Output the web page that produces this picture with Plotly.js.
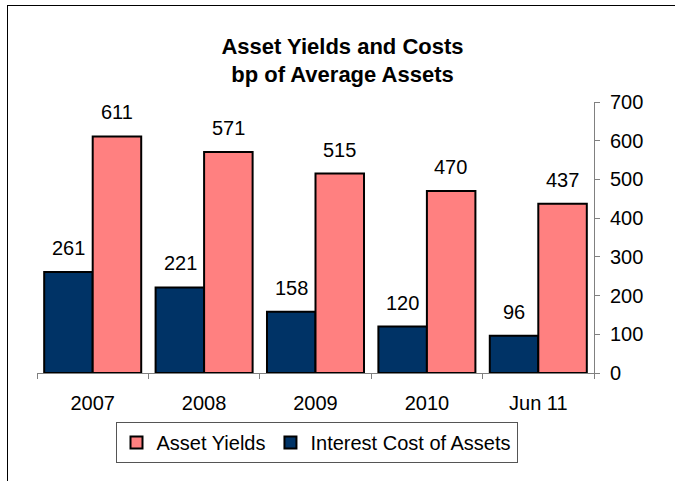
<!DOCTYPE html>
<html>
<head>
<meta charset="utf-8">
<script src="https://cdn.plot.ly/plotly-3.0.1.min.js"></script>
<style>
  html, body { margin: 0; padding: 0; background: #fff; overflow: hidden; }
  #wrap { position: relative; width: 675px; height: 481px; }
  #chart { position: absolute; left: 0; top: 0; width: 675px; height: 481px; }
  #frame { position: absolute; left: 7px; top: 5px; width: 700px; height: 500px;
           border-left: 1.5px solid #000; border-top: 1.5px solid #000; pointer-events: none; }
</style>
</head>
<body>
<div id="wrap">
  <div id="chart"></div>
  <div id="frame"></div>
</div>
<script>
const categories = ["2007", "2008", "2009", "2010", "Jun 11"];
const interestCost = [261, 221, 158, 120, 96];
const assetYields = [611, 571, 515, 470, 437];
const yTicks = [0, 100, 200, 300, 400, 500, 600, 700];

const FONT = "Liberation Sans, Arial, Helvetica, sans-serif";

const traces = [
  {
    type: "bar", name: "Interest Cost of Assets", x: categories, y: interestCost,
    marker: { color: "#003366", line: { color: "#000000", width: 2 } },
    hoverinfo: "none"
  },
  {
    type: "bar", name: "Asset Yields", x: categories, y: assetYields,
    marker: { color: "#FF8080", line: { color: "#000000", width: 2 } },
    hoverinfo: "none"
  }
];

const annotations = [];
categories.forEach((c, i) => {
  annotations.push({ x: i, y: interestCost[i], text: String(interestCost[i]), showarrow: false,
    xshift: -24, yshift: 24, yanchor: "middle", font: { family: FONT, size: 20, color: "#000" } });
  annotations.push({ x: i, y: assetYields[i], text: String(assetYields[i]), showarrow: false,
    xshift: 24, yshift: 24, yanchor: "middle", font: { family: FONT, size: 20, color: "#000" } });
});

const layout = {
  width: 675, height: 481,
  margin: { l: 37, r: 81, t: 102, b: 108, pad: 0 },
  paper_bgcolor: "rgba(0,0,0,0)", plot_bgcolor: "rgba(0,0,0,0)",
  font: { family: FONT, size: 20, color: "#000" },
  title: {
    text: "<b>Asset Yields and Costs<br>bp of Average Assets</b>",
    font: { family: FONT, size: 22, color: "#000" },
    xref: "container", x: 0.5074, xanchor: "center",
    yref: "container", y: 0.888, yanchor: "top"
  },
  barmode: "group", bargap: 0.129, bargroupgap: 0,
  xaxis: {
    type: "category", showline: true, linecolor: "#808080", linewidth: 1,
    ticks: "outside", ticklen: 5, tickcolor: "#808080", tickson: "boundaries",
    showgrid: false, zeroline: false, ticklabelstandoff: 12, tickangle: 0,
    range: [-0.5, 4.5],
    tickfont: { family: FONT, size: 20, color: "#000" }
  },
  yaxis: {
    side: "right", range: [0, 700], tickvals: yTicks, showline: true,
    linecolor: "#808080", linewidth: 1, ticks: "outside", ticklen: 5, tickcolor: "#808080",
    showgrid: false, zeroline: false, ticklabelstandoff: 6,
    tickfont: { family: FONT, size: 20, color: "#000" }
  },
  showlegend: true,
  legend: {
    orientation: "h", traceorder: "reversed",
    x: 0.5018, xanchor: "center", y: -0.181, yanchor: "top",
    bordercolor: "#555555", borderwidth: 1, bgcolor: "#ffffff",
    font: { family: FONT, size: 20, color: "#000" }
  },
  annotations: annotations
};

Plotly.newPlot("chart", traces, layout, { staticPlot: true, displayModeBar: false });
</script>
</body>
</html>
